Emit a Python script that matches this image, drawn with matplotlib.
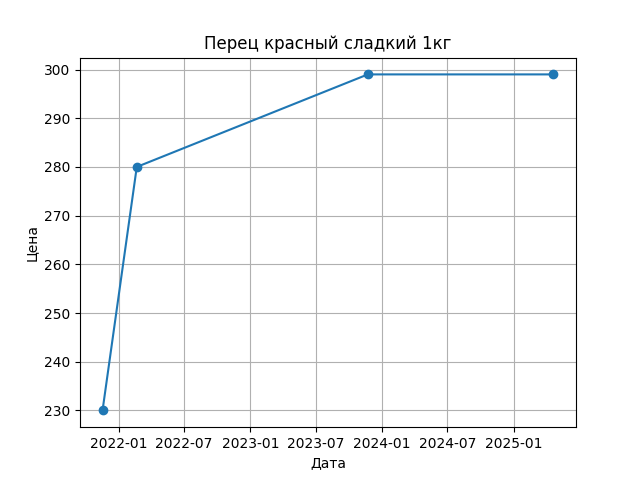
import matplotlib
matplotlib.use("Agg")
import matplotlib.pyplot as plt
import pandas as pd

dates = ["2021-11-17", "2022-02-20", "2023-11-23", "2025-04-21"]
prices = [230, 280, 299, 299]

x = pd.to_datetime(dates)
fig, ax = plt.subplots(figsize=(6.4, 4.8), dpi=100)
ax.plot(x, prices, marker="o")
ax.set_title("Перец красный сладкий 1кг")
ax.set_xlabel("Дата")
ax.set_ylabel("Цена")
ax.grid(True)
fig.savefig("out.png")
